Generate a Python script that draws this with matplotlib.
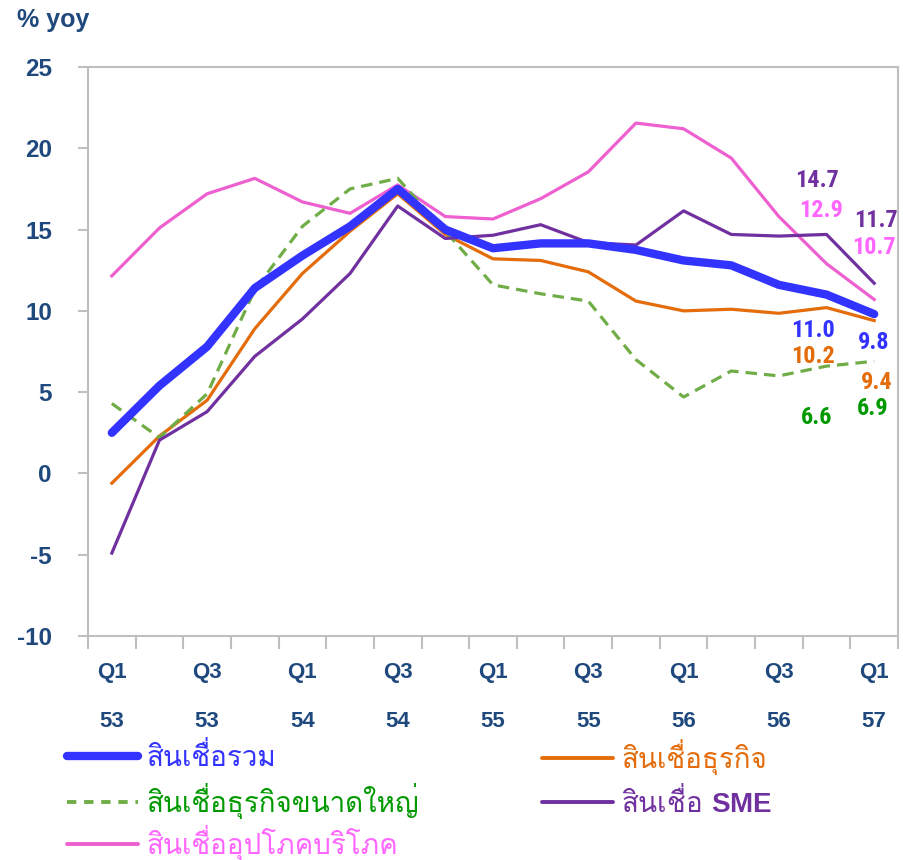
import matplotlib
matplotlib.use("Agg")
import matplotlib.pyplot as plt
from matplotlib.lines import Line2D

plt.rcParams["mathtext.fontset"] = "custom"
plt.rcParams["mathtext.bf"] = "Liberation Sans:bold"
plt.rcParams["mathtext.rm"] = "Liberation Sans"

# ---------------- data ----------------
quarters = ["Q1", "Q2", "Q3", "Q4"] * 4 + ["Q1"]
years = ["53"] * 4 + ["54"] * 4 + ["55"] * 4 + ["56"] * 4 + ["57"]

total = [2.5, 5.4, 7.8, 11.4, 13.4, 15.2, 17.5, 15.0, 13.85, 14.15, 14.15, 13.75, 13.1, 12.8, 11.6, 11.0, 9.8]
business = [-0.6, 2.3, 4.5, 8.9, 12.3, 14.9, 17.2, 14.7, 13.2, 13.1, 12.4, 10.6, 10.0, 10.1, 9.85, 10.2, 9.4]
large_corp = [4.3, 2.2, 4.9, 11.3, 15.2, 17.5, 18.15, 14.9, 11.6, 11.05, 10.6, 7.0, 4.7, 6.3, 6.0, 6.6, 6.9]
sme = [-4.9, 2.05, 3.8, 7.2, 9.5, 12.3, 16.45, 14.45, 14.65, 15.3, 14.2, 14.05, 16.15, 14.7, 14.6, 14.7, 11.7]
consumer = [12.15, 15.1, 17.2, 18.15, 16.7, 16.0, 17.75, 15.8, 15.65, 16.9, 18.55, 21.55, 21.2, 19.4, 15.8, 12.9, 10.7]

names = ["สินเชื่อรวม", "สินเชื่อธุรกิจ", "สินเชื่อธุรกิจขนาดใหญ่", "สินเชื่อ $\\mathbf{SME}$", "สินเชื่ออุปโภคบริโภค"]
yticks = [-10, -5, 0, 5, 10, 15, 20, 25]

# ---------------- style ----------------
NAVY = "#1F497D"
GREY = "#BFBFBF"
C_TOTAL = "#3333FF"
C_BUS = "#E46C0A"
C_LARGE = "#70AD47"
C_LARGE_TXT = "#009900"
C_SME = "#7030A0"
C_CONS = "#EE5FD0"
C_CONS_TXT = "#FF66FF"

LAT = ["Liberation Sans", "DejaVu Sans"]
THAI = ["Loma", "DejaVu Sans"]
NARROW = ["Roboto Condensed", "Liberation Sans", "DejaVu Sans"]

W, H = 904, 860
fig = plt.figure(figsize=(W / 100, H / 100), dpi=100)
ax = fig.add_axes([88 / W, 1 - 636 / H, 810 / W, 569 / H])

x = list(range(len(total)))

ax.plot(x, consumer, color=C_CONS, lw=2.3, solid_joinstyle="round", zorder=3)
ax.plot(x, business, color=C_BUS, lw=2.3, solid_joinstyle="round", zorder=3)
ax.plot(x, large_corp, color=C_LARGE, lw=2.3, linestyle=(0, (3.6, 2.2)), zorder=3)
ax.plot(x, sme, color=C_SME, lw=2.3, solid_joinstyle="round", zorder=4)
ax.plot(x, total, color=C_TOTAL, lw=6.0, solid_capstyle="round", solid_joinstyle="round", zorder=5)

ax.set_xlim(-0.5, len(total) - 0.5)
ax.set_ylim(-10, 25)

for s in ax.spines.values():
    s.set_color(GREY)
    s.set_linewidth(1.5)

ax.set_yticks(yticks)
ax.set_yticklabels([str(v) for v in yticks])
ax.tick_params(axis="y", direction="out", length=7.5, width=1.5, color=GREY, pad=18.5,
               labelsize=17.5, labelcolor=NAVY)
for lbl in ax.get_yticklabels():
    lbl.set_fontfamily(LAT)
    lbl.set_fontweight("bold")

major = x[::2]
ax.set_xticks(major)
ax.set_xticklabels([f"{quarters[i]}\n{years[i]}" for i in major], linespacing=2.8)
ax.set_xticks([i - 0.5 for i in range(len(total) + 1)], minor=True)
ax.tick_params(axis="x", which="major", length=0, pad=18.5, labelsize=16, labelcolor=NAVY)
ax.tick_params(axis="x", which="minor", direction="out", length=9, width=1.5, color=GREY)
for lbl in ax.get_xticklabels():
    lbl.set_fontfamily(LAT)
    lbl.set_fontweight("bold")
    lbl.set_verticalalignment("top")

fig.text(17 / W, 1 - 27 / H, "% yoy", fontsize=18, fontweight="bold", color=NAVY,
         family=LAT, ha="left", va="baseline")

# ---------------- data labels ----------------
def lab(series, i, dx, dy, color):
    ax.annotate(f"{series[i]:.1f}", xy=(i, series[i]), xytext=(dx, dy), textcoords="offset pixels",
                ha="center", va="baseline", fontsize=17.5, fontweight="bold", color=color,
                family=NARROW, zorder=6)

# baseline offsets (pixels, up positive)
lab(sme, 15, -10, 47, C_SME)
lab(consumer, 15, -5, 47, C_CONS_TXT)
lab(total, 15, -14, -42, C_TOTAL)
lab(business, 15, -14, -55, C_BUS)
lab(large_corp, 15, -10, -58, C_LARGE_TXT)
lab(sme, 16, 2, 56, C_SME)
lab(consumer, 16, 0, 45, C_CONS_TXT)
lab(total, 16, -1, -35, C_TOTAL)
lab(business, 16, 3, -68, C_BUS)
lab(large_corp, 16, -1, -54, C_LARGE_TXT)

# ---------------- legend ----------------
entries = [
    (names[0], dict(color=C_TOTAL, lw=6.0, solid_capstyle="round"), C_TOTAL, 67, 757),
    (names[1], dict(color=C_BUS, lw=2.8, solid_capstyle="round"), C_BUS, 542, 757),
    (names[2], dict(color=C_LARGE, lw=2.8, linestyle=(0, (2.4, 2.0))), C_LARGE_TXT, 67, 801),
    (names[3], dict(color=C_SME, lw=2.8, solid_capstyle="round"), C_SME, 542, 801),
    (names[4], dict(color=C_CONS, lw=2.8, solid_capstyle="round"), C_CONS_TXT, 67, 843),
]
for text, kw, tcol, lx, ly in entries:
    h = Line2D([], [], **kw)
    fig.legend(handles=[h], labels=[text], loc="center left",
               bbox_to_anchor=(lx / W, 1 - ly / H), frameon=False, borderpad=0,
               borderaxespad=0, handlelength=2.55, handletextpad=0.3,
               prop=dict(family=THAI, size=20), labelcolor=tcol)

fig.savefig("out.png", dpi=100)
